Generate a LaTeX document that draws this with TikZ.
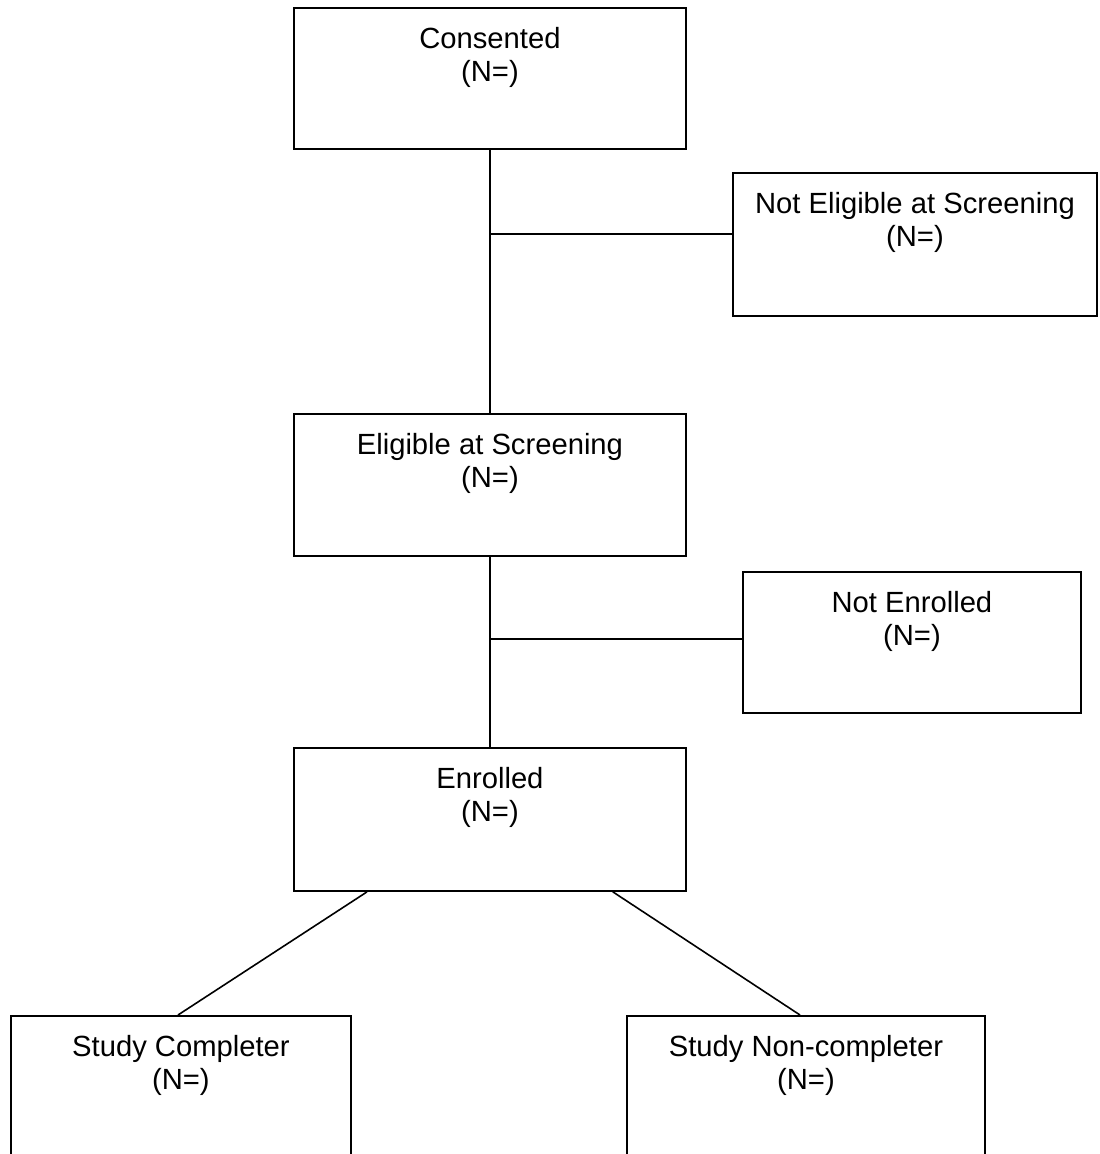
\documentclass[tikz,border=0pt]{standalone}
\usepackage{fontspec}
\setmainfont{Liberation Sans}
\usetikzlibrary{calc}
\begin{document}
\begin{tikzpicture}[x=0.75pt,y=-0.75pt,
  box/.style={draw=black,line width=1.4pt,rectangle,inner sep=0pt,anchor=north west,fill=white},
  lbl/.style={anchor=north,inner sep=0pt,align=center,font=\fontsize{21.9}{24.75}\selectfont,yshift=-15pt},
  conn/.style={draw=black,line width=1.2pt}]
\useasboundingbox (0,0) rectangle (1100,1154);
\fill[white] (0,0) rectangle (1100,1154);
% boxes
\node[box,minimum width=392*0.75pt,minimum height=141*0.75pt] (cons) at (293,7) {};
\node[box,minimum width=364*0.75pt,minimum height=143*0.75pt] (nelig) at (732,172) {};
\node[box,minimum width=392*0.75pt,minimum height=142*0.75pt] (elig) at (293,413) {};
\node[box,minimum width=338*0.75pt,minimum height=141*0.75pt] (nenr) at (742,571) {};
\node[box,minimum width=392*0.75pt,minimum height=143*0.75pt] (enr) at (293,747) {};
\node[box,minimum width=340*0.75pt,minimum height=200*0.75pt] (comp) at (10,1015) {};
\node[box,minimum width=358*0.75pt,minimum height=200*0.75pt] (ncomp) at (626,1015) {};
% labels
\node[lbl] (tcons) at (cons.north) {Consented\\(N=)};
\node[lbl] (tnelig) at (nelig.north) {Not Eligible at Screening\\(N=)};
\node[lbl] (telig) at (elig.north) {Eligible at Screening\\(N=)};
\node[lbl] (tnenr) at (nenr.north) {Not Enrolled\\(N=)};
\node[lbl] (tenr) at (enr.north) {Enrolled\\(N=)};
\node[lbl] (tcomp) at (comp.north) {Study Completer\\(N=)};
\node[lbl] (tncomp) at (ncomp.north) {Study Non-completer\\(N=)};
% connectors
\coordinate (j1) at (489,234);
\coordinate (j2) at (489,639);
\coordinate (d1) at ($(enr.south west)+(74,0)$);
\coordinate (d2) at ($(enr.south east)+(-74,0)$);
\coordinate (c1) at ($(comp.north west)+(168,0)$);
\coordinate (c2) at ($(ncomp.north west)+(174,0)$);
\draw[conn] (cons.south) -- (elig.north);
\draw[conn] (j1) -- (j1 -| nelig.west);
\draw[conn] (elig.south) -- (enr.north);
\draw[conn] (j2) -- (j2 -| nenr.west);
\draw[conn] (d1) -- (c1);
\draw[conn] (d2) -- (c2);
\end{tikzpicture}
\end{document}
